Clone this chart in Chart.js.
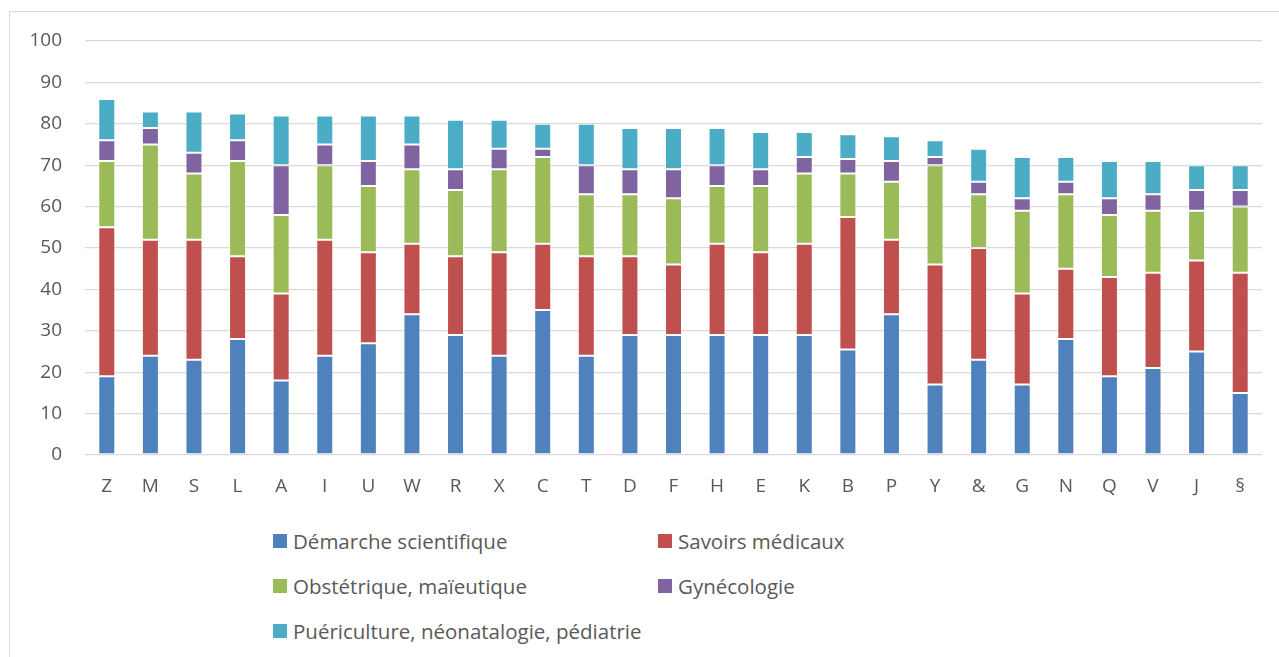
<!DOCTYPE html>
<html lang="fr">
<head>
<meta charset="utf-8">
<title>Répartition par domaine</title>
<script src="https://cdn.jsdelivr.net/npm/chart.js@4.4.1/dist/chart.umd.min.js"></script>
<style>
  html, body {
    margin: 0;
    padding: 0;
    width: 1279px;
    height: 657px;
    overflow: hidden;
    background: #fff;
    font-family: "Open Sans", sans-serif;
  }
  #frame {
    position: absolute;
    left: 9px;
    top: 11px;
    width: 1320px;
    height: 700px;
    border: 1px solid #d9d9d9;
  }
  #wrap {
    position: absolute;
    left: 0;
    top: 0;
    width: 1279px;
    height: 510px;
  }
  #legend {
    position: absolute;
    left: 273px;
    top: 518px;
    display: grid;
    grid-template-columns: 385px auto;
    grid-auto-rows: 45px;
    color: #595959;
    font-size: 20.5px;
  }
  .item { display: flex; align-items: center; white-space: nowrap; }
  .box { width: 14px; height: 14px; margin-right: 6px; flex: none; }
</style>
</head>
<body>
<div id="frame"></div>
<div id="wrap"><canvas id="chart"></canvas></div>
<div id="legend"></div>

<script>
// Catégories (axe X)
const categories = ["Z", "M", "S", "L", "A", "I", "U", "W", "R", "X", "C", "T", "D", "F",
                    "H", "E", "K", "B", "P", "Y", "&", "G", "N", "Q", "V", "J", "§"];

// Séries (valeurs empilées)
const demarche    = [19, 24, 23, 28, 18, 24, 27, 34, 29, 24, 35, 24, 29, 29, 29, 29, 29, 25.5, 34, 17, 23, 17, 28, 19, 21, 25, 15];
const savoirs     = [36, 28, 29, 20, 21, 28, 22, 17, 19, 25, 16, 24, 19, 17, 22, 20, 22, 32, 18, 29, 27, 22, 17, 24, 23, 22, 29];
const obstetrique = [16, 23, 16, 23, 19, 18, 16, 18, 16, 20, 21, 15, 15, 16, 14, 16, 17, 10.5, 14, 24, 13, 20, 18, 15, 15, 12, 16];
const gyneco      = [5, 4, 5, 5, 12, 5, 6, 6, 5, 5, 2, 7, 6, 7, 5, 4, 4, 3.5, 5, 2, 3, 3, 3, 4, 4, 5, 4];
const pueri       = [10, 4, 10, 6.5, 12, 7, 11, 7, 12, 7, 6, 10, 10, 10, 9, 9, 6, 6, 6, 4, 8, 10, 6, 9, 8, 6, 6];

const seriesNames = ["Démarche scientifique", "Savoirs médicaux", "Obstétrique, maïeutique",
                     "Gynécologie", "Puériculture, néonatalogie, pédiatrie"];
const seriesColors = ["#4f81bd", "#c0504d", "#9bbb59", "#8064a2", "#4bacc6"];

// Graduations de l'axe Y
const yMin = 0;
const yMax = 100;
const yStep = 10;

const seriesData = [demarche, savoirs, obstetrique, gyneco, pueri];
const textColor = "#595959";

const datasets = seriesData.map((data, i) => ({
    label: seriesNames[i],
    data,
    backgroundColor: seriesColors[i],
    borderColor: "rgba(255,255,255,0.35)",
    borderWidth: 1,
    borderSkipped: false,
    categoryPercentage: 1,
    barPercentage: 0.39
}));

new Chart(document.getElementById("chart"), {
    type: "bar",
    data: { labels: categories, datasets },
    options: {
        responsive: true,
        maintainAspectRatio: false,
        animation: false,
        layout: { padding: { top: 41, right: 17, left: 0, bottom: 0 } },
        plugins: {
            legend: { display: false },
            tooltip: { enabled: false }
        },
        scales: {
            x: {
                stacked: true,
                grid: { display: false, drawTicks: false },
                border: { display: false },
                ticks: {
                    color: textColor,
                    font: { family: "Open Sans", size: 19 },
                    padding: 20,
                    maxRotation: 0,
                    autoSkip: false
                },
                afterFit(scale) { scale.height = 55; }
            },
            y: {
                stacked: true,
                min: yMin,
                max: yMax,
                ticks: {
                    stepSize: yStep,
                    color: textColor,
                    font: { family: "Open Sans", size: 19 },
                    padding: 23
                },
                grid: { color: "#d9d9d9", lineWidth: 1.3, drawTicks: false },
                border: { display: false },
                afterFit(scale) { scale.width = 85; }
            }
        }
    }
});

// Légende en deux colonnes
const legend = document.getElementById("legend");
seriesNames.forEach((name, i) => {
    const item = document.createElement("div");
    item.className = "item";
    const box = document.createElement("span");
    box.className = "box";
    box.style.background = seriesColors[i];
    item.appendChild(box);
    item.appendChild(document.createTextNode(name));
    legend.appendChild(item);
});
</script>
</body>
</html>
